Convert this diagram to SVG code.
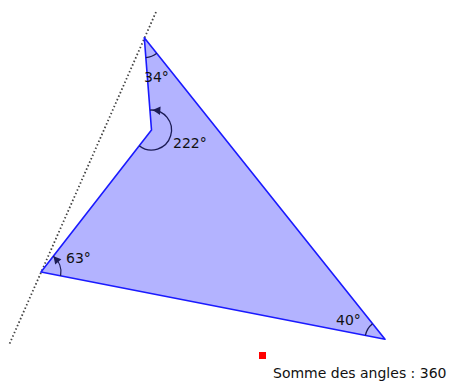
<svg xmlns="http://www.w3.org/2000/svg" width="452" height="385" viewBox="0 0 452 385">
  <style>
    .poly { fill: #b3b3ff; stroke: #1a1aff; stroke-width: 1.6; stroke-linejoin: round; }
    .arc { fill: none; stroke: #1c1c55; stroke-width: 1.3; }
    .head { fill: #1c1c55; stroke: none; }
    .lbl { font-family: "DejaVu Sans", "Liberation Sans", sans-serif; font-size: 14px; fill: #111; }
    .dots { fill: none; stroke: #444; stroke-width: 1.8; stroke-dasharray: 1.5 2.3; }
  </style>
  <rect width="452" height="385" fill="#ffffff"/>
  <g id="connectors">
    <line class="dots" x1="156" y1="12" x2="9" y2="345"/>
  </g>
  <g id="polygon">
    <polygon class="poly" points="144.3,37.7 151.5,130 41,272 385,339.3"/>
  </g>
  <g id="angle-A">
    <path class="arc" d="M156.78,53.33 A20,20 0 0 1 145.86,57.64"/>
    <text class="lbl" x="144" y="82">34°</text>
  </g>
  <g id="angle-B">
    <path class="arc" d="M139.16,145.74 A20,20 0 1 0 149.94,110.06"/>
    <polygon class="head" points="152.6,110.05 160.6,106.6 160,115"/>
    <text class="lbl" x="173" y="148">222°</text>
  </g>
  <g id="angle-C">
    <path class="arc" d="M60.6,275.8 A20,20 0 0 0 53.3,256.3"/>
    <polygon class="head" points="53.5,256.2 61.4,259.2 55.2,264.6"/>
    <text class="lbl" x="66" y="263">63°</text>
  </g>
  <g id="angle-D">
    <path class="arc" d="M365.37,335.45 A20,20 0 0 1 372.52,323.67"/>
    <text class="lbl" x="336" y="325">40°</text>
  </g>
  <g id="sum">
    <rect x="259" y="352" width="7" height="7" fill="#ff0000"/>
    <text class="lbl" x="273" y="378">Somme des angles : 360</text>
  </g>
</svg>
